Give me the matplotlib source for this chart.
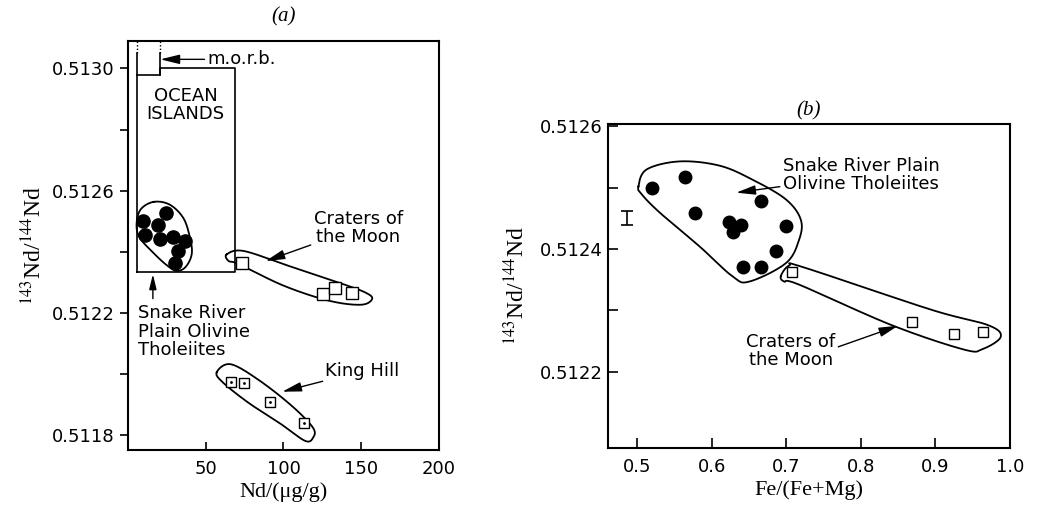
import numpy as np
import matplotlib
matplotlib.use('Agg')
import matplotlib.pyplot as plt

plt.rcParams['font.family'] = ['DejaVu Sans']
plt.rcParams['mathtext.fontset'] = 'stix'

# === DATA: panel (a), Nd vs 143Nd/144Nd ===
srp_a_nd = [24.4, 9.4, 19.5, 11.1, 20.5, 29.2, 36.5, 32.4, 30.2]
srp_a_ratio = [0.512526, 0.512501, 0.512486, 0.512454, 0.512442,
               0.512447, 0.512436, 0.512402, 0.512364]
com_a_nd = [73.4, 125.5, 133.2, 144.0]
com_a_ratio = [0.512364, 0.512261, 0.512282, 0.512264]
kh_nd = [66.3, 74.5, 91.3, 113.4]
kh_ratio = [0.511972, 0.511969, 0.511906, 0.511840]

# field outlines (a)
srp_a_env_x = [16.5, 26.8, 35.6, 39.9, 41.0, 37.1, 31.3, 24.8, 16.3, 7.6, 5.5, 8.1]
srp_a_env_y = [0.512563, 0.512554, 0.512510, 0.512445, 0.512392, 0.512350,
               0.512337, 0.512356, 0.512396, 0.512445, 0.512489, 0.512538]
com_a_env_x = [63.5, 74.5, 103.5, 135.8, 151.9, 157.1, 150.0, 129.4, 100.3, 71.3, 64.8]
com_a_env_y = [0.512391, 0.512402, 0.512353, 0.512298, 0.512268, 0.512246,
               0.512226, 0.512239, 0.512288, 0.512359, 0.512369]
kh_env_x = [57.1, 66.1, 84.2, 105.5, 119.0, 119.0, 113.9, 99.0, 77.7, 60.9]
kh_env_y = [0.512005, 0.512031, 0.511979, 0.511894, 0.511823, 0.511790,
            0.511780, 0.511833, 0.511904, 0.511972]
ocean_x = [5.7, 68.7, 68.7, 20.3, 20.3, 5.7, 5.7]
ocean_y = [0.512334, 0.512334, 0.513000, 0.513000, 0.51298, 0.51298, 0.512334]
morb_x = [5.7, 20.3]
morb_y_solid = [0.51298, 0.51305]

# === DATA: panel (b), Fe/(Fe+Mg) vs 143Nd/144Nd ===
srp_b_fe = [0.519, 0.564, 0.577, 0.623, 0.639, 0.628, 0.666, 0.699, 0.686, 0.642, 0.666]
srp_b_ratio = [0.512499, 0.512517, 0.512459, 0.512444, 0.512440, 0.512428,
               0.512478, 0.512438, 0.512396, 0.512371, 0.512370]
com_b_fe = [0.708, 0.868, 0.925, 0.964]
com_b_ratio = [0.512362, 0.512281, 0.512261, 0.512264]

srp_b_env_x = [0.5013, 0.5125, 0.5569, 0.6103, 0.6547, 0.6992, 0.7192, 0.7169,
               0.6992, 0.6503, 0.628, 0.5836, 0.5303, 0.5059]
srp_b_env_y = [0.512502, 0.512530, 0.512543, 0.512536, 0.512513, 0.512481, 0.512448,
               0.512415, 0.512377, 0.512347, 0.512355, 0.512404, 0.512459, 0.512489]
com_b_env_x = [0.6925, 0.7036, 0.7235, 0.8943, 0.9703, 0.9876, 0.9635, 0.9383,
               0.8409, 0.7169, 0.6969]
com_b_env_y = [0.512356, 0.512373, 0.512370, 0.512301, 0.512276, 0.512257,
               0.512237, 0.512236, 0.512276, 0.512342, 0.512347]

err_x = 0.486
err_y = 0.51245
err_half = 0.0000115


def closed_curve(xs, ys, n=24):
    """closed Catmull-Rom spline through the outline points"""
    p = np.column_stack([xs, ys])
    t = np.linspace(0, 1, n, endpoint=False)[:, None]
    segs = []
    m = len(p)
    for i in range(m):
        p0, p1, p2, p3 = p[i - 1], p[i], p[(i + 1) % m], p[(i + 2) % m]
        segs.append(0.5 * (2 * p1 + (-p0 + p2) * t
                           + (2 * p0 - 5 * p1 + 4 * p2 - p3) * t ** 2
                           + (-p0 + 3 * p1 - 3 * p2 + p3) * t ** 3))
    c = np.vstack(segs + [segs[0][:1]])
    return c[:, 0], c[:, 1]


arrow = dict(arrowstyle='-|>,head_length=0.9,head_width=0.22', color='k', lw=1.0,
             shrinkA=0, shrinkB=0)
serif = 'Liberation Serif'
fs = 13

fig = plt.figure(figsize=(10.45, 5.09), dpi=100)

# --- panel (a) ---
ax = fig.add_axes([0.1225, 0.1159, 0.2975, 0.8035])
for x, y in [(srp_a_env_x, srp_a_env_y), (com_a_env_x, com_a_env_y), (kh_env_x, kh_env_y)]:
    cx, cy = closed_curve(x, y)
    ax.plot(cx, cy, color='k', lw=1.3)
ax.plot(ocean_x, ocean_y, color='k', lw=1.2)
for xm in morb_x:
    ax.plot([xm, xm], morb_y_solid, color='k', lw=1.2)
    ax.plot([xm, xm], [morb_y_solid[1], 0.51309], color='k', lw=1.0, ls=(0, (1, 1.5)))
ax.plot(srp_a_nd, srp_a_ratio, 'o', color='k', ms=9.5)
ax.plot(com_a_nd, com_a_ratio, 's', mfc='white', mec='k', mew=1.0, ms=8)
ax.plot(kh_nd, kh_ratio, 's', mfc='white', mec='k', mew=1.0, ms=7.5)
ax.plot(kh_nd, kh_ratio, '.', color='k', ms=2)

ax.text(37, 0.51288, 'OCEAN\nISLANDS', ha='center', va='center', fontsize=fs, linespacing=1.05)
ax.annotate('m.o.r.b.', xy=(20.8, 0.51303), xytext=(51, 0.51303), fontsize=fs,
            va='center', ha='left', arrowprops=arrow)
ax.annotate('Craters of\nthe Moon', xy=(88.5, 0.512369), xytext=(148, 0.512477),
            fontsize=fs, ha='center', va='center', linespacing=1.0, arrowprops=arrow)
ax.annotate('', xy=(16, 0.512326), xytext=(16, 0.512246), arrowprops=arrow)
ax.text(6.5, 0.512138, 'Snake River\nPlain Olivine\nTholeiites', ha='left', va='center',
        fontsize=fs, linespacing=1.05)
ax.annotate('King Hill', xy=(99.2, 0.511941), xytext=(127, 0.512009), fontsize=fs,
            ha='left', va='center', arrowprops=arrow)

ax.set_xlim(0, 200)
ax.set_ylim(0.51175, 0.51309)
ax.set_xticks([50, 100, 150, 200])
ax.set_yticks([0.5118, 0.5122, 0.5126, 0.5130])
ax.set_yticks([0.5120, 0.5124, 0.5128], minor=True)
ax.tick_params(axis='x', direction='in', length=6, width=1.2, labelsize=fs, pad=7)
ax.tick_params(axis='y', which='both', direction='out', length=6, width=1.2, labelsize=fs)
ax.tick_params(axis='y', which='minor', labelleft=False)
ax.set_xlabel('Nd/(μg/g)', family=serif, fontsize=16, labelpad=3)
ax.set_ylabel(r'$^{143}$Nd/$^{144}$Nd', family=serif, fontsize=17, labelpad=4)
ax.set_title('(a)', family=serif, style='italic', fontsize=15, pad=14)
for s in ax.spines.values():
    s.set_linewidth(1.5)

# --- panel (b) ---
bx = fig.add_axes([0.5815, 0.1193, 0.385, 0.6371])
for x, y in [(srp_b_env_x, srp_b_env_y), (com_b_env_x, com_b_env_y)]:
    cx, cy = closed_curve(x, y)
    bx.plot(cx, cy, color='k', lw=1.3)
bx.plot(srp_b_fe, srp_b_ratio, 'o', color='k', ms=9)
bx.plot(com_b_fe, com_b_ratio, 's', mfc='white', mec='k', mew=1.0, ms=7.5)
bx.errorbar([err_x], [err_y], yerr=[err_half], fmt='none', ecolor='k', elinewidth=1.2,
            capsize=4, capthick=1.2)

bx.annotate('Snake River Plain\nOlivine Tholeiites', xy=(0.6325, 0.512492),
            xytext=(0.8, 0.51252), fontsize=fs, ha='center', va='center',
            linespacing=1.0, arrowprops=arrow)
bx.annotate('Craters of\nthe Moon', xy=(0.85, 0.512275), xytext=(0.706, 0.512233),
            fontsize=fs, ha='center', va='center', linespacing=1.0,
            arrowprops=dict(arrow, relpos=(1.0, 0.6)))

bx.set_xlim(0.46, 1.0)
bx.set_ylim(0.512075, 0.512604)
bx.set_xticks([0.5, 0.6, 0.7, 0.8, 0.9, 1.0])
bx.set_xticklabels(['0.5', '0.6', '0.7', '0.8', '0.9', '1.0'])
bx.set_yticks([0.5122, 0.5124, 0.5126])
bx.set_yticks([0.5123, 0.5125], minor=True)
bx.tick_params(axis='both', which='both', direction='in', length=7, width=1.2, labelsize=fs)
bx.tick_params(axis='x', pad=7)
bx.tick_params(axis='y', which='minor', labelleft=False)
bx.set_xlabel('Fe/(Fe+Mg)', family=serif, fontsize=16, labelpad=3)
bx.set_ylabel(r'$^{143}$Nd/$^{144}$Nd', family=serif, fontsize=17, labelpad=8)
bx.set_title('(b)', family=serif, style='italic', fontsize=15, pad=6)
for s in bx.spines.values():
    s.set_linewidth(1.5)

fig.savefig('out.png', dpi=100)
